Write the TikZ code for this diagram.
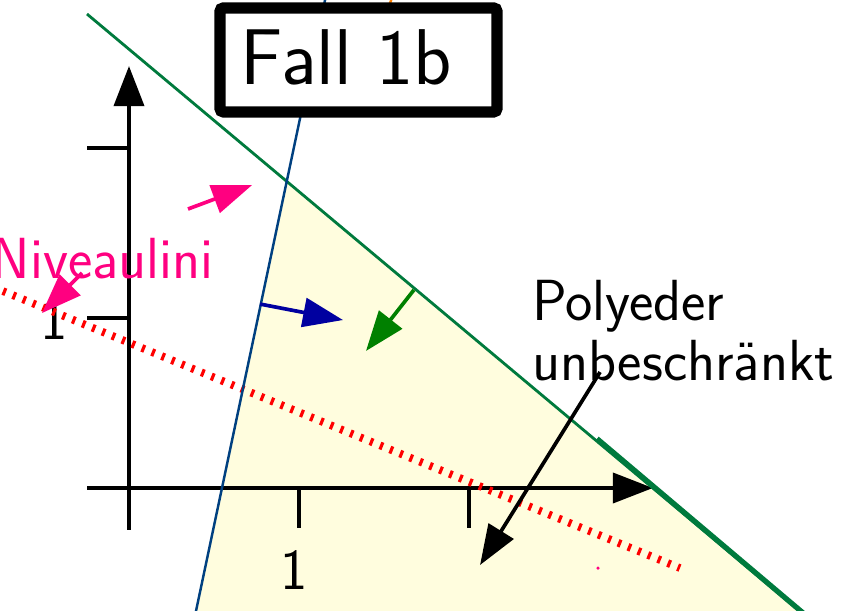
\documentclass[tikz,border=0pt]{standalone}
\usetikzlibrary{arrows.meta}
\definecolor{gline}{RGB}{0,122,61}
\definecolor{bline}{RGB}{0,64,128}
\definecolor{niv}{RGB}{255,0,128}
\definecolor{garrow}{RGB}{0,128,0}
\definecolor{barrow}{RGB}{0,0,160}
\definecolor{polyfill}{RGB}{255,253,222}
\begin{document}
\begin{tikzpicture}[
  x=3.4cm,y=3.4cm,
  font=\sffamily\fontsize{33}{34}\selectfont,
  ax/.style={line width=2.1pt,-{Triangle[length=8mm,width=6mm]}},
  tk/.style={line width=2.1pt},
  a/.style={line width=2.1pt,-{Triangle[length=8mm,width=5.8mm]}},
  lbl/.style={inner sep=0pt},
  title/.style={draw,line width=6.4pt,rounded corners=2pt,fill=white,minimum width=5.54cm,minimum height=2.08cm,font=\sffamily\fontsize{45}{54}\selectfont},
]
  \useasboundingbox (-0.7588,-0.7235) rectangle (4.2,2.8706);
  \fill[polyfill] (0.927,1.80) -- (4.0,-0.77) -- (0.378,-0.8) -- cycle;

  \draw[ax] (-0.247,0) -- (3.082,0);
  \draw[ax] (0,-0.247) -- (0,2.482);
  \foreach \i in {1,2} {
    \draw[tk] (\i,0) -- (\i,-0.235);
    \draw[tk] (0,\i) -- (-0.247,\i);
  }
  \node[lbl] (x1) at (0.97,-0.48) {1};
  \node[lbl,anchor=east] (y1) at (-0.359,0.99) {1};

  \draw[red,line width=4.4pt,dash pattern=on 1.8pt off 4.3pt] (-0.8,1.182) -- (3.241,-0.471);

  \draw[gline,line width=1.6pt] (-0.247,2.788) -- (4.0,-0.77);
  \draw[gline,line width=3pt] (2.753,0.29) -- (4.03,-0.79);
  \draw[bline,line width=1.4pt] (0.378,-0.8) -- (1.17,2.95);
  \draw[orange,line width=1.4pt] (1.50,2.75) -- (1.57,2.95);
  \fill[niv] (2.759,-0.471) circle (1pt);

  \node[lbl,niv,anchor=base east] (niveau) at (0.50,1.235) {Niveaulini};
  \node[lbl,anchor=north west,align=left] (poly) at (2.37,1.222) {Polyeder\\unbeschränkt};

  \coordinate (n1s) at (0.347,1.641);
  \coordinate (n1e) at (0.724,1.782);
  \coordinate (n2s) at (-0.276,1.265);
  \coordinate (n2e) at (-0.512,1.029);
  \coordinate (bs) at (0.771,1.082);
  \coordinate (be) at (1.259,0.988);
  \coordinate (gs) at (1.676,1.165);
  \coordinate (ge) at (1.394,0.806);
  \coordinate (ps) at (2.771,0.682);
  \coordinate (pe) at (2.065,-0.453);

  \draw[a,niv] (n1s) -- (n1e);
  \draw[a,niv] (n2s) -- (n2e);
  \draw[a,barrow] (bs) -- (be);
  \draw[a,garrow] (gs) -- (ge);
  \draw[a] (ps) -- (pe);

  \node[title] (fall) at (1.35,2.518) {\raisebox{0.12cm}{Fall 1b}\hspace*{0.48cm}};
\end{tikzpicture}
\end{document}
